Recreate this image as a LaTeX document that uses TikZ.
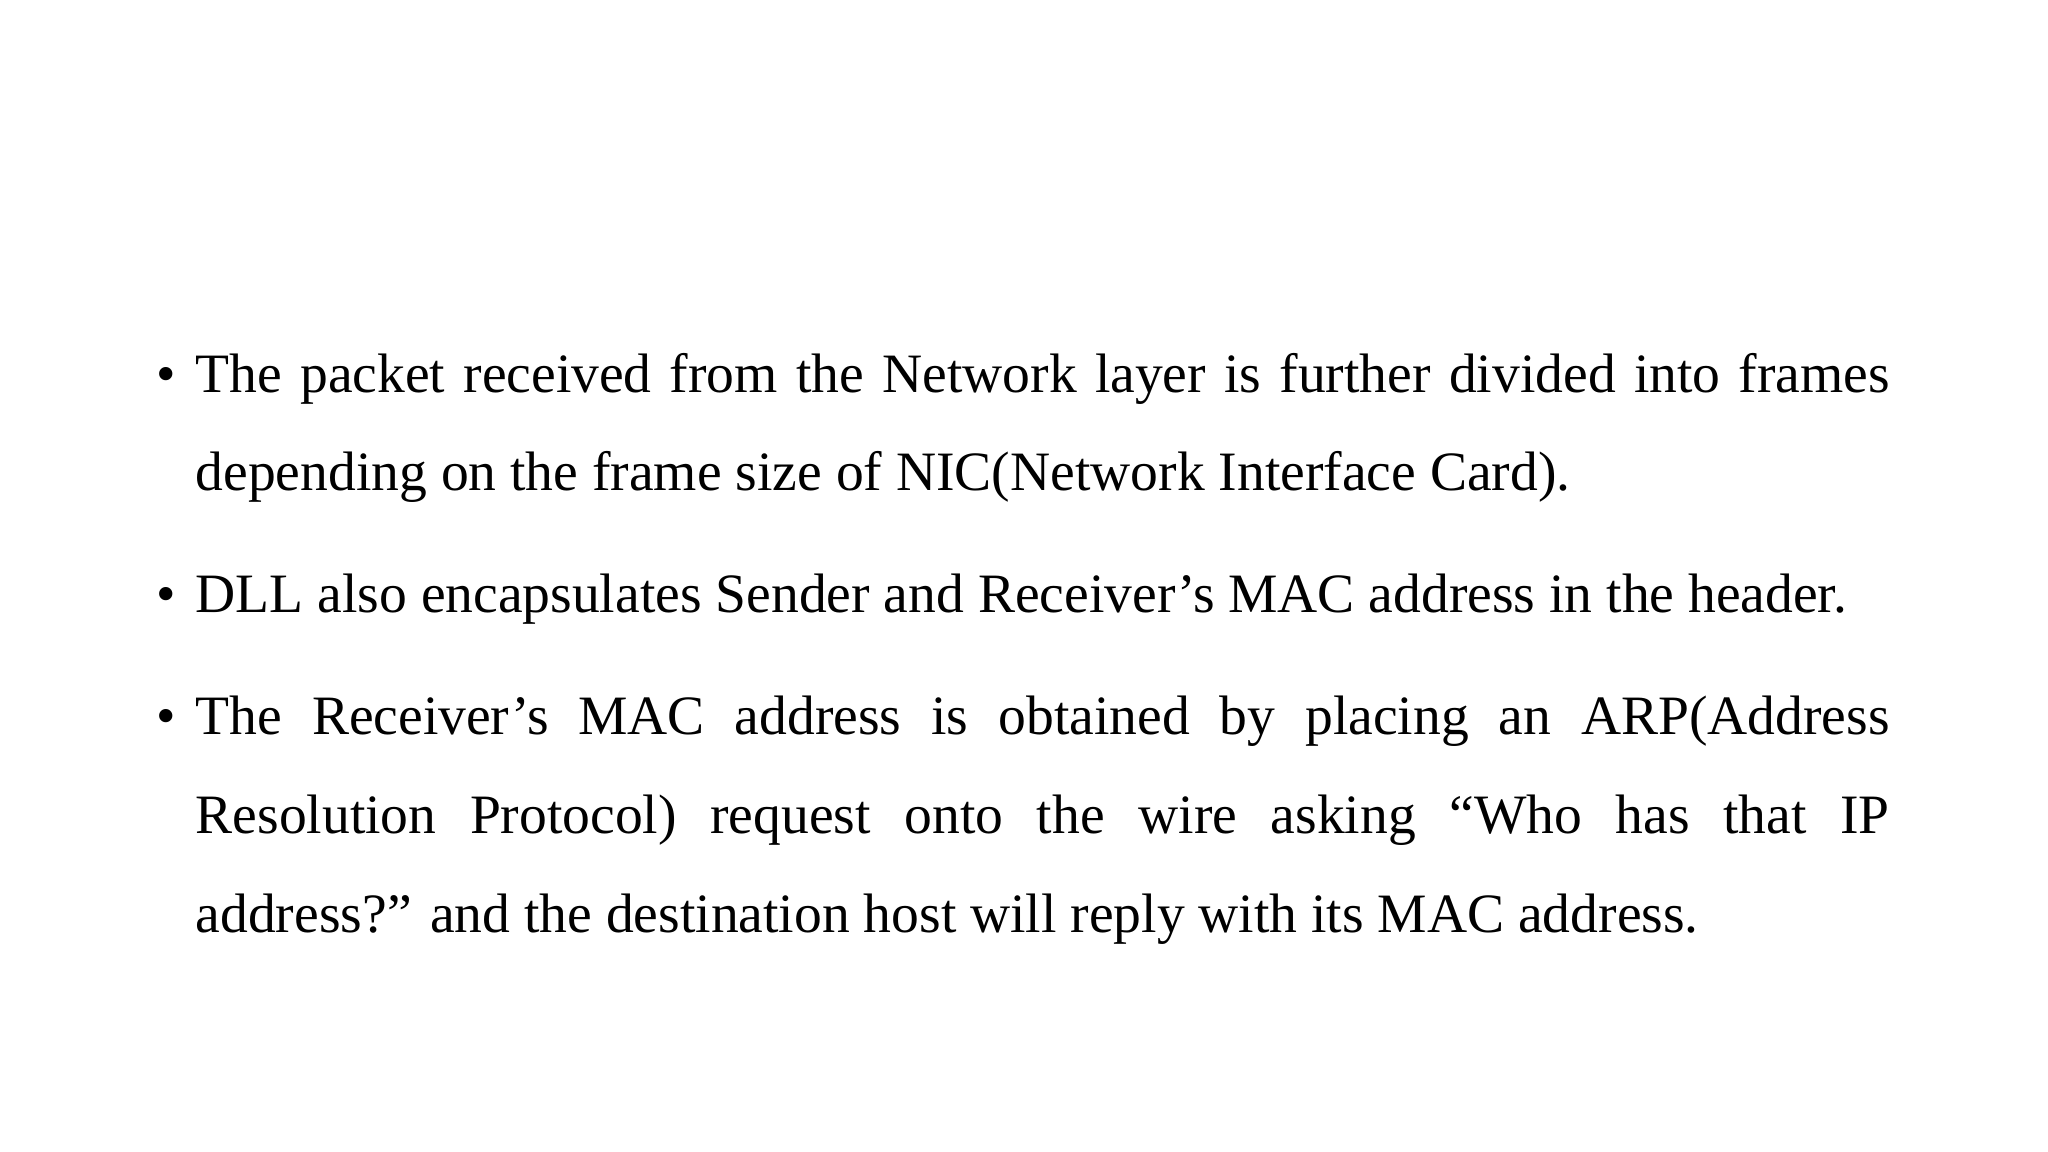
\documentclass[tikz,border=0pt]{standalone}
\usepackage{fontspec}
\setmainfont{Liberation Serif}
\begin{document}
\begin{tikzpicture}[x=0.01cm,y=-0.01cm,
  ln/.style={anchor=base west,inner sep=0pt,font=\fontsize{15.8}{19}\selectfont},
  bul/.style={anchor=base,inner sep=0pt,font=\fontsize{15.8}{19}\selectfont}]
\useasboundingbox[fill=white] (0,0) rectangle (2048,1152);
\def\W{16.93cm}
\node[bul] (b1) at (166,393) {•};
\node[ln] (l1) at (195,393) {\hbox to \W{The packet received from the Network layer is further divided into frames}};
\node[ln] (l2) at (195,490.6) {depending on the frame size of NIC(Network Interface Card).};
\node[bul] (b2) at (166,612.8) {•};
\node[ln] (l3) at (195,612.8) {DLL also encapsulates Sender and Receiver’s MAC address in the header.};
\node[bul] (b3) at (166,734) {•};
\node[ln] (l4) at (195,734) {\hbox to \W{The Receiver’s MAC address is obtained by placing an ARP(Address}};
\node[ln] (l5) at (195,833.6) {\hbox to \W{Resolution Protocol) request onto the wire asking “Who has that IP}};
\node[ln] (l6) at (195,932) {address?” and the destination host will reply with its MAC address.};
\end{tikzpicture}
\end{document}
